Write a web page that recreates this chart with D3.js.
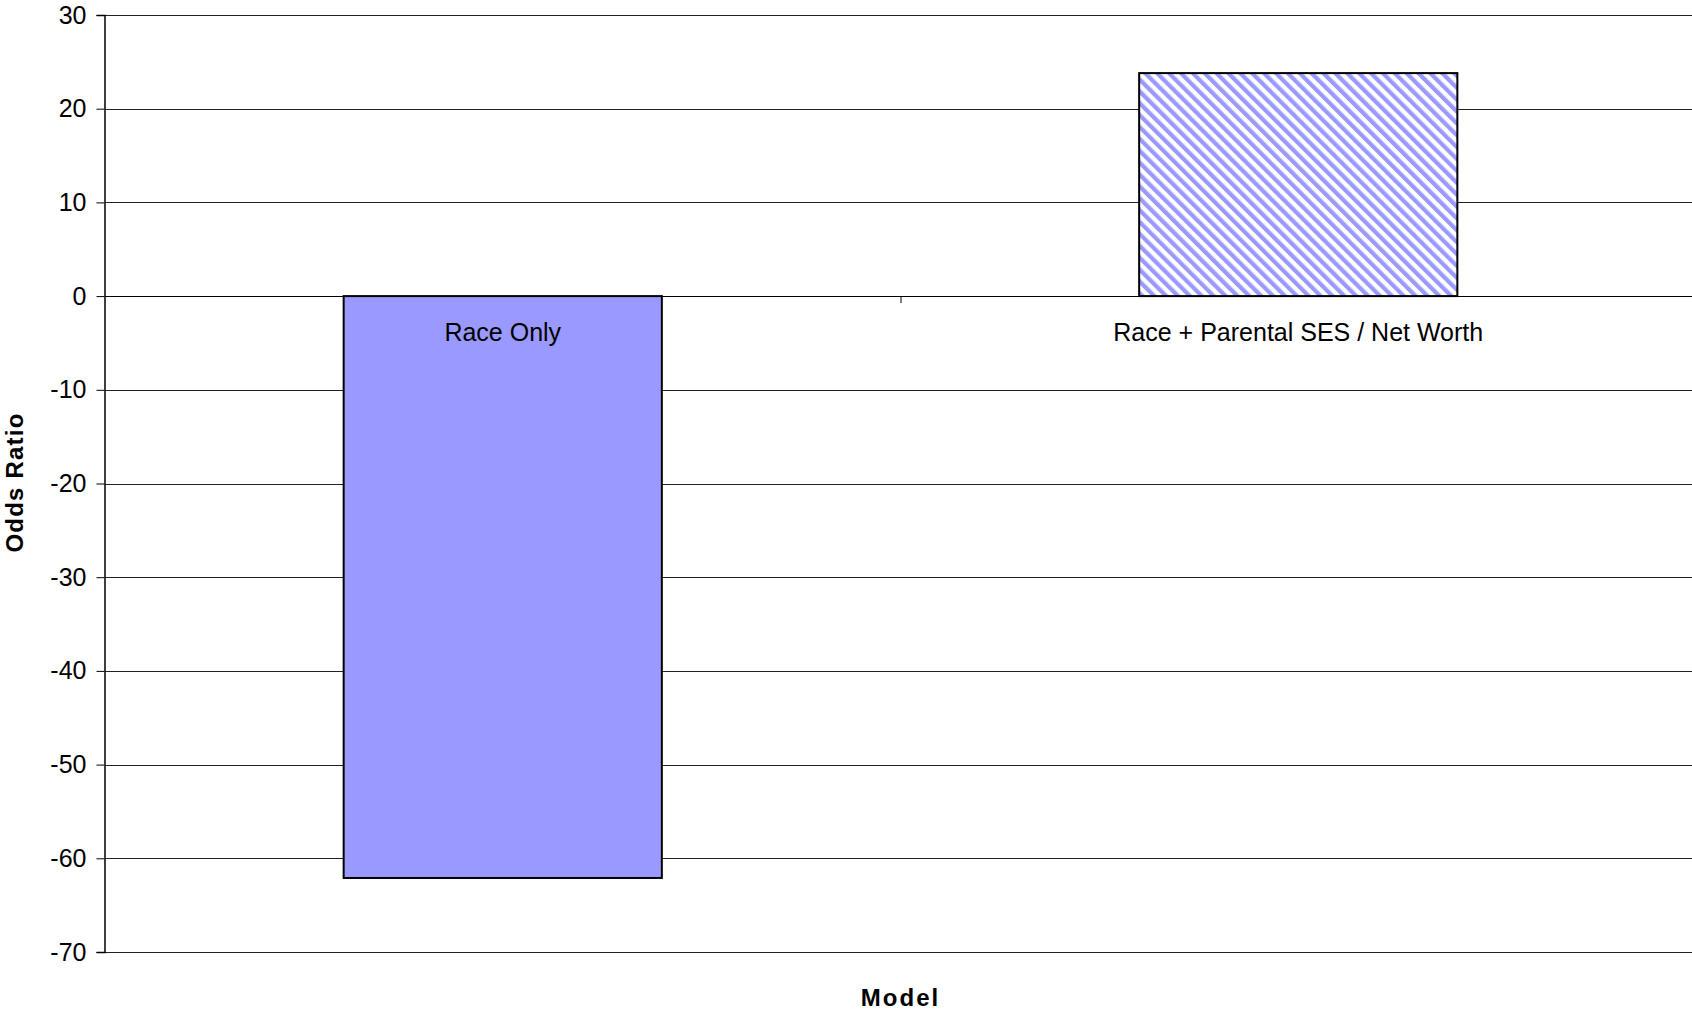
<!DOCTYPE html>
<html>
<head>
<meta charset="utf-8">
<script src="https://cdn.jsdelivr.net/npm/d3@7"></script>
<style>
  html, body { margin: 0; padding: 0; background: #fff; }
  svg { display: block; }
  text { font-family: "Liberation Sans", Arial, sans-serif; fill: #000; }
</style>
</head>
<body>
<svg id="chart" width="1692" height="1010"></svg>
<script>
// Data
const categories = ["Race Only", "Race + Parental SES / Net Worth"];
const values = [-62.1, 23.8];
const yTicks = [30, 20, 10, 0, -10, -20, -30, -40, -50, -60, -70];
const xTitle = "Model";
const yTitle = "Odds Ratio";

const svg = d3.select("#chart");
const plotL = 105, plotR = 1696, plotT = 15, plotB = 952;

const x = d3.scaleBand().domain(categories).range([plotL, plotR]).paddingInner(0.6).paddingOuter(0.3);
const y = d3.scaleLinear().domain([-70, 30]).range([plotB, plotT]);

// Hatch pattern
const defs = svg.append("defs");
const pat = defs.append("pattern")
  .attr("id", "hatch").attr("patternUnits", "userSpaceOnUse")
  .attr("width", 8.4).attr("height", 8.4)
  .attr("patternTransform", "rotate(-45)");
pat.append("rect").attr("width", 8.4).attr("height", 8.4).attr("fill", "#fff");
pat.append("rect").attr("x", 0).attr("y", 0).attr("width", 4.2).attr("height", 8.4).attr("fill", "#9999ff");

// Gridlines
svg.append("g").selectAll("line").data(yTicks).join("line")
  .attr("x1", plotL).attr("x2", 1692)
  .attr("y1", d => Math.round(y(d)) + 0.5).attr("y2", d => Math.round(y(d)) + 0.5)
  .attr("stroke", d => d === 0 ? "#000" : "#222").attr("stroke-width", 1);

// Y axis
const yAxis = d3.axisLeft(y).tickValues(yTicks).tickSize(8).tickPadding(10).tickFormat(d => String(d));
const gy = svg.append("g").attr("transform", `translate(${plotL - 0.5},0)`).call(yAxis);
gy.select(".domain").attr("stroke", "#000").attr("stroke-width", 1.5);
gy.selectAll(".tick line").attr("stroke", "#000");
gy.selectAll(".tick text").style("font-size", "25px").attr("font-family", "Liberation Sans, Arial, sans-serif").attr("fill", "#000");

// Bars
svg.append("g").selectAll("rect").data(categories).join("rect")
  .attr("x", d => x(d))
  .attr("width", x.bandwidth())
  .attr("y", (d, i) => y(Math.max(0, values[i])))
  .attr("height", (d, i) => Math.abs(y(values[i]) - y(0)))
  .attr("fill", (d, i) => i === 0 ? "#9999ff" : "url(#hatch)")
  .attr("stroke", "#000").attr("stroke-width", 2);

// Category tick (between categories)
const step = x.step();
svg.append("line")
  .attr("x1", plotL + step + 0.5).attr("x2", plotL + step + 0.5)
  .attr("y1", y(0)).attr("y2", y(0) + 7)
  .attr("stroke", "#000");

// Category labels
svg.append("g").selectAll("text").data(categories).join("text")
  .attr("x", d => x(d) + x.bandwidth() / 2)
  .attr("y", y(0) + 45)
  .attr("text-anchor", "middle")
  .style("font-size", "25px")
  .text(d => d);

// Axis titles
svg.append("text")
  .attr("x", (plotL + plotR) / 2)
  .attr("y", 1006)
  .attr("text-anchor", "middle")
  .style("font-size", "24px").style("font-weight", "bold").style("letter-spacing", "2px")
  .text(xTitle);

svg.append("text")
  .attr("transform", `translate(23,${(plotT + plotB) / 2 - 1}) rotate(-90)`)
  .attr("text-anchor", "middle")
  .style("font-size", "24px").style("font-weight", "bold").style("letter-spacing", "1.2px")
  .text(yTitle);
</script>
</body>
</html>
